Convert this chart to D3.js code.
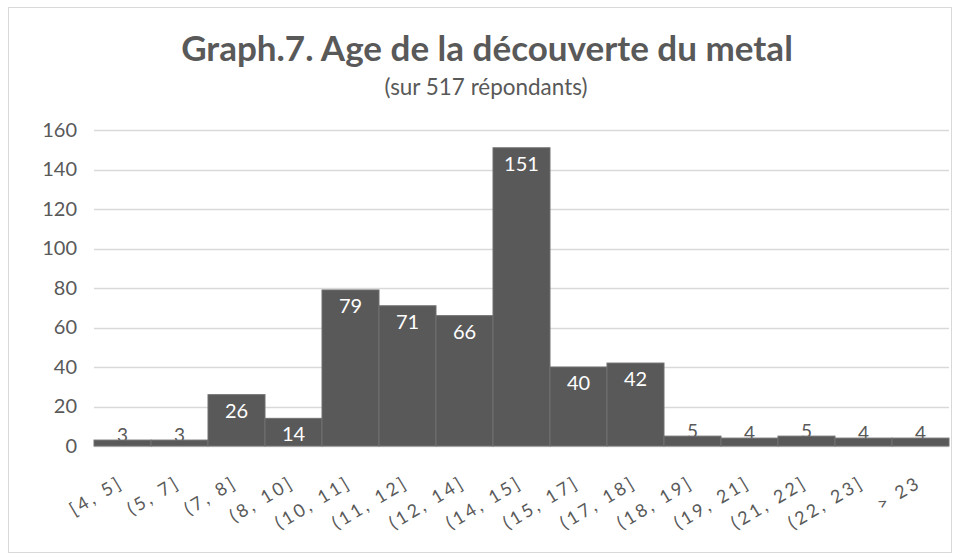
<!DOCTYPE html>
<html><head><meta charset="utf-8">
<script src="https://cdn.jsdelivr.net/npm/d3@7"></script>
<style>
body{margin:0;background:#fff;}
text{font-family:Lato,"Open Sans",sans-serif;}
</style></head>
<body><svg id="c" width="956" height="560"></svg>
<script>
const categories = ["[4, 5]","(5, 7]","(7, 8]","(8, 10]","(10, 11]","(11, 12]","(12, 14]","(14, 15]","(15, 17]","(17, 18]","(18, 19]","(19, 21]","(21, 22]","(22, 23]","> 23"];
const values = [3,3,26,14,79,71,66,151,40,42,5,4,5,4,4];
const yTicks = [0,20,40,60,80,100,120,140,160];
const title = "Graph.7. Age de la découverte du metal";
const subtitle = "(sur 517 répondants)";

const svg = d3.select("#c");
const txt = "#595959";
svg.append("rect").attr("x",8.5).attr("y",7.5).attr("width",943).attr("height",545)
  .attr("fill","#fff").attr("stroke","#d9d9d9");

function fitText(sel, w){
  const n = sel.node(); let fs = parseFloat(sel.attr("font-size"));
  const l = n.getComputedTextLength(); sel.attr("font-size", fs*w/l);
}
const t = svg.append("text").attr("x",487).attr("y",61).attr("text-anchor","middle")
  .attr("font-size",30).attr("font-weight","bold").attr("fill",txt).text(title);
fitText(t,612);
const st = svg.append("text").attr("x",486).attr("y",95).attr("text-anchor","middle")
  .attr("font-size",17).attr("fill",txt).text(subtitle);
fitText(st,203);

const x = d3.scaleBand().domain(categories).range([94,949]).padding(0);
const y = d3.scaleLinear().domain([0,160]).range([446,130]);

const grid = svg.append("g");
grid.selectAll("line").data(yTicks).join("line")
  .attr("x1",94).attr("x2",949).attr("y1",d=>Math.round(y(d))+0.5).attr("y2",d=>Math.round(y(d))+0.5)
  .attr("stroke","#d9d9d9").attr("stroke-width",1.5);

const yAxis = d3.axisLeft(y).tickValues(yTicks).tickSize(0).tickPadding(0);
const ga = svg.append("g").attr("transform","translate(77,0)").call(yAxis);
ga.select(".domain").remove();
ga.selectAll("text").attr("font-size",20).attr("fill",txt).attr("font-family","Lato,'Open Sans',sans-serif");

const data = categories.map((c,i)=>({c, v:values[i]}));
// small labels drawn under bars (dark), large labels inside (white)
svg.append("g").selectAll("text").data(data.filter(d=>d.v<10)).join("text")
  .attr("x",d=>x(d.c)+x.bandwidth()/2).attr("y",d=>y(d.v)+2)
  .attr("text-anchor","middle").attr("font-size",19).attr("fill",txt).text(d=>d.v);

svg.append("g").selectAll("rect").data(data).join("rect")
  .attr("x",d=>x(d.c)).attr("y",d=>y(d.v)).attr("width",x.bandwidth()).attr("height",d=>y(0)-y(d.v))
  .attr("fill","#595959").attr("stroke","#707070").attr("stroke-width",1);

svg.append("g").selectAll("text").data(data.filter(d=>d.v>=10)).join("text")
  .attr("x",d=>x(d.c)+x.bandwidth()/2).attr("y",d=>y(d.v)+23)
  .attr("text-anchor","middle").attr("font-size",20).attr("fill","#fff").text(d=>d.v);

const xl = svg.append("g");
xl.selectAll("text").data(categories).join("text")
  .attr("transform",d=>`translate(${x(d)+x.bandwidth()/2+2},486) rotate(-31)`)
  .attr("text-anchor","end").attr("font-size",18).attr("letter-spacing",3).attr("fill",txt).text(d=>d);
</script></body></html>
